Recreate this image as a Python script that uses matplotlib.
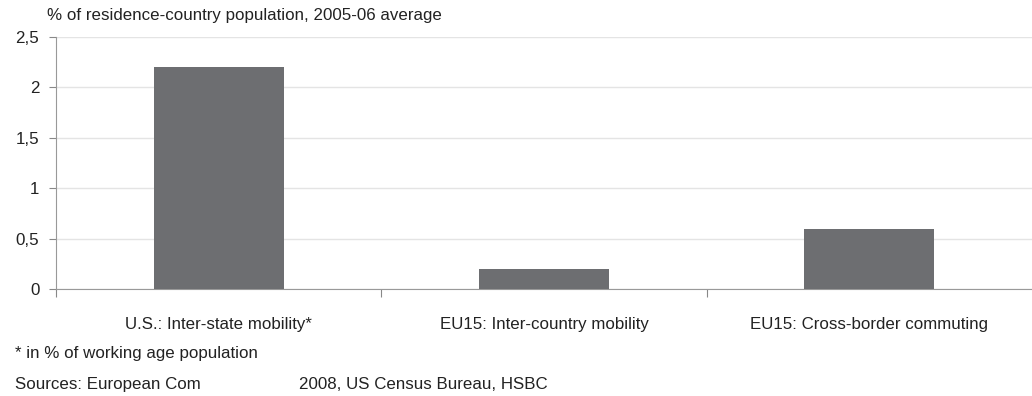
import matplotlib.pyplot as plt
from matplotlib.ticker import FixedLocator, FixedFormatter

plt.rcParams['font.family'] = ['Liberation Sans', 'DejaVu Sans']

categories = ['U.S.: Inter-state mobility*', 'EU15: Inter-country mobility', 'EU15: Cross-border commuting']
values = [2.2, 0.2, 0.6]
y_ticks = [0, 0.5, 1, 1.5, 2, 2.5]
y_labels = ['0', '0,5', '1', '1,5', '2', '2,5']

bar_color = '#6d6e71'
text_color = '#222222'
fs = 12.2

fig = plt.figure(figsize=(10.32, 3.96), dpi=100)
ax = fig.add_axes([0.0543, 0.2702, 0.9457, 0.6364])

x = list(range(len(categories)))
ax.bar(x, values, width=0.4, color=bar_color, zorder=3)

ax.set_xlim(-0.5, 2.5)
ax.set_ylim(0, 2.5)

ax.set_yticks(y_ticks)
ax.set_yticklabels(y_labels, fontsize=fs, color=text_color)
ax.yaxis.grid(True, color='#e4e4e4', linewidth=1, zorder=0)

# category boundaries as major ticks, labels on minor ticks
ax.xaxis.set_major_locator(FixedLocator([-0.5, 0.5, 1.5]))
ax.xaxis.set_major_formatter(FixedFormatter(['', '', '']))
ax.xaxis.set_minor_locator(FixedLocator(x))
ax.xaxis.set_minor_formatter(FixedFormatter(categories))
ax.tick_params(axis='x', which='major', length=6, color='#888888', direction='out')
ax.tick_params(axis='x', which='minor', length=0, pad=20, labelsize=fs, labelcolor=text_color)
ax.tick_params(axis='y', length=5, color='#888888', pad=7)

for s in ['top', 'right']:
    ax.spines[s].set_visible(False)
ax.spines['left'].set_color('#999999')
ax.spines['bottom'].set_color('#999999')

fig.text(0.0455, 0.962, '% of residence-country population, 2005-06 average',
         fontsize=fs, color=text_color, va='center', ha='left')
fig.text(0.0145, 0.108, '* in % of working age population',
         fontsize=fs, color=text_color, va='center', ha='left')
fig.text(0.0145, 0.028, 'Sources: European Com',
         fontsize=fs, color=text_color, va='center', ha='left')
fig.text(0.29, 0.028, '2008, US Census Bureau, HSBC',
         fontsize=fs, color=text_color, va='center', ha='left')

fig.savefig('out.png', dpi=100)
